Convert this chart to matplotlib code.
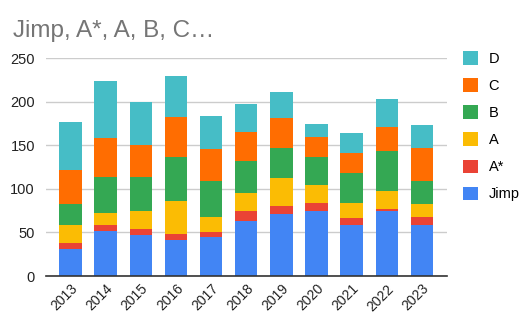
import matplotlib.pyplot as plt
import numpy as np

years = ['2013', '2014', '2015', '2016', '2017', '2018', '2019', '2020', '2021', '2022', '2023']
jimp = [31, 52, 47, 41, 45, 63, 71, 74, 59, 75, 58]
a_star = [7, 6, 7, 7, 6, 12, 9, 10, 7, 2, 10]
a = [20, 14, 20, 38, 17, 20, 32, 20, 18, 20, 14]
b = [24, 42, 40, 51, 41, 37, 35, 33, 34, 46, 27]
c = [39, 44, 36, 45, 37, 33, 34, 22, 23, 28, 38]
d = [56, 66, 49, 47, 38, 32, 30, 15, 23, 32, 26]

series = [('Jimp', jimp, '#4285F4'), ('A*', a_star, '#EA4335'), ('A', a, '#FBBC04'),
          ('B', b, '#34A853'), ('C', c, '#FF6D01'), ('D', d, '#46BDC6')]

plt.rcParams['font.family'] = ['Liberation Sans', 'DejaVu Sans']

fig = plt.figure(figsize=(5.21, 3.14), dpi=100)
ax = fig.add_axes([46 / 521, 1 - 276 / 314, 400.5 / 521, 218 / 314])

x = np.arange(len(years))
bottom = np.zeros(len(years))
handles = []
for name, vals, col in series:
    h = ax.bar(x, vals, 0.64, bottom=bottom, color=col, label=name, zorder=3)
    handles.append(h)
    bottom += np.array(vals)

ax.set_xlim(-0.7, 10.7)
ax.set_ylim(0, 250)
ax.set_yticks([0, 50, 100, 150, 200, 250])
ax.grid(axis='y', color='#cccccc', linewidth=1, zorder=0)
for s in ['top', 'right', 'left']:
    ax.spines[s].set_visible(False)
ax.spines['bottom'].set_color('#333333')
ax.spines['bottom'].set_linewidth(1.2)
ax.spines['bottom'].set_zorder(4)
ax.tick_params(axis='y', length=0, pad=8, labelsize=10.5, labelcolor='#222222')
ax.tick_params(axis='x', length=0, pad=4, labelsize=10, labelcolor='#222222')
ax.set_xticks(x)
ax.set_xticklabels(years, rotation=45, ha='right', rotation_mode='anchor')

fig.text(13 / 521, 1 - 31 / 314, 'Jimp, A*, A, B, C\u2026', fontsize=17.5, color='#757575', va='center', ha='left')

ax.legend(handles[::-1], [s[0] for s in series][::-1], loc='upper left',
          bbox_to_anchor=(463 / 521, 1 - 51 / 314), bbox_transform=fig.transFigure,
          frameon=False, fontsize=10.5, handlelength=1.05, handleheight=1.05,
          labelspacing=0.85, handletextpad=0.7, borderpad=0, borderaxespad=0)

fig.savefig('out.png', dpi=100)
